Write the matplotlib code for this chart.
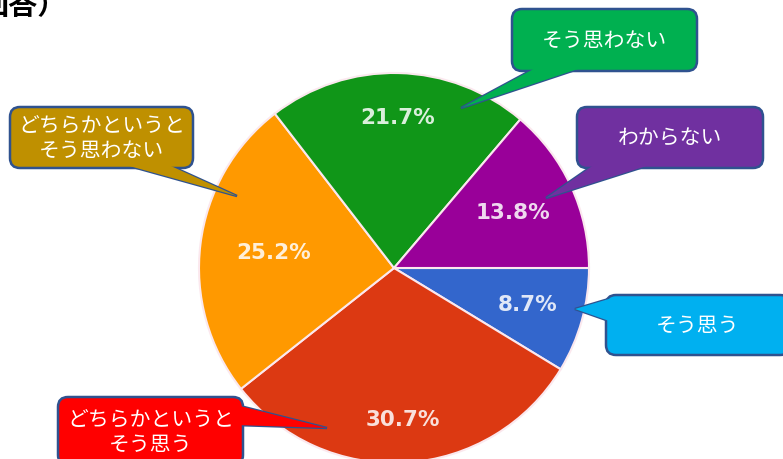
import numpy as np
import matplotlib.pyplot as plt
from matplotlib.patches import FancyBboxPatch, Polygon

plt.rcParams['font.family'] = ['Noto Sans CJK JP', 'DejaVu Sans']

# slices, clockwise from 3 o'clock
labels = ['そう思う', 'どちらかというと\nそう思う', 'どちらかというと\nそう思わない',
          'そう思わない', 'わからない']
values = [8.7, 30.7, 25.2, 21.7, 13.8]
pie_colors = ['#3366cc', '#dc3912', '#ff9900', '#109618', '#990099']
box_colors = ['#00b0f0', '#ff0000', '#bf9000', '#00b050', '#7030a0']
pct_dist = [0.71, 0.78, 0.62, 0.77, 0.67]

W, H = 783, 459
fig = plt.figure(figsize=(W / 100, H / 100), dpi=100)
ax = fig.add_axes([0, 0, 1, 1])

cx, cy, R = 394, H - 268, 195
wedges, _ = ax.pie(values, colors=pie_colors, startangle=0, counterclock=False,
                   center=(cx, cy), radius=R,
                   wedgeprops=dict(edgecolor='#fbe8ee', linewidth=1.5))

for w, v, d in zip(wedges, values, pct_dist):
    a = np.deg2rad((w.theta1 + w.theta2) / 2)
    ax.text(cx + R * d * np.cos(a), cy + R * d * np.sin(a), f"{v}%",
            ha='center', va='center', fontsize=15.5, color='white', alpha=0.85,
            fontweight='bold', family='DejaVu Sans')


def callout(x0, y0, x1, y1, tip, base, color, text):
    # pixel coords, y from top
    box = FancyBboxPatch((x0, H - y1), x1 - x0, y1 - y0,
                         boxstyle='round,pad=0,rounding_size=10',
                         fc=color, ec='#2f528f', lw=1.8, zorder=4)
    tri = [(tip[0], H - tip[1])] + [(bx, H - by) for bx, by in base]
    ax.add_patch(Polygon(tri, closed=True, fc=color, ec='#2f528f', lw=1.8, zorder=3))
    ax.add_patch(box)
    ax.add_patch(Polygon(tri, closed=True, fc=color, ec='none', zorder=5))
    ax.text((x0 + x1) / 2, H - (y0 + y1) / 2 - 1, text, ha='center', va='center',
            color='white', fontsize=15, linespacing=1.2, zorder=6)


callout(606, 295, 790, 355, (575, 309), [(612, 298), (612, 322)], box_colors[0], labels[0])
callout(58, 397, 243, 465, (327, 428), [(236, 405), (236, 425)], box_colors[1], labels[1])
callout(10, 107, 193, 168, (237, 196), [(115, 162), (162, 162)], box_colors[2], labels[2])
callout(512, 9, 697, 71, (461, 108), [(541, 65), (590, 65)], box_colors[3], labels[3])
callout(577, 107, 763, 168, (546, 198), [(598, 162), (659, 162)], box_colors[4], labels[4])

ax.text(-20, H - 14, '回答）', ha='left', va='baseline', fontsize=21,
        fontweight='bold', color='black')

ax.set_xlim(0, W)
ax.set_ylim(0, H)
ax.set_aspect('equal')
ax.axis('off')
fig.savefig('out.png', dpi=100)
